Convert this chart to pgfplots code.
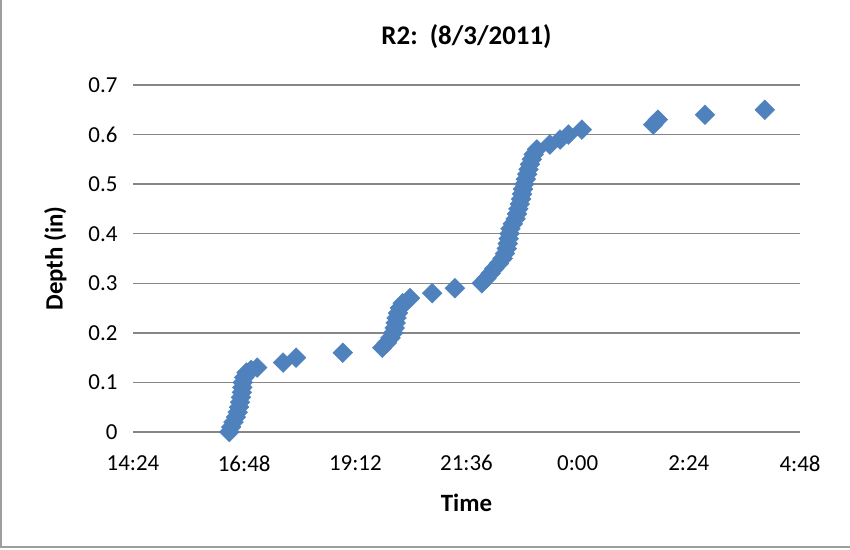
\documentclass[border=0pt]{standalone}
\usepackage{fontspec}
\setmainfont{Carlito}
\usepackage{pgfplots}
\pgfplotsset{compat=1.18}
\definecolor{xlblue}{RGB}{79,129,189}
\definecolor{gridgray}{RGB}{134,134,134}
\begin{document}
\begin{tikzpicture}
\path[use as bounding box] (0,0) rectangle (850bp,550bp);
\draw[gridgray!80, line width=2bp] (1bp,550bp) -- (1bp,3bp) -- (850bp,3bp);
\begin{axis}[
    at={(133bp,118bp)}, anchor=south west,
    scale only axis, width=667bp, height=347bp,
    xmin=14.4, xmax=28.8, ymin=0, ymax=0.7,
    xtick={14.4,16.8,19.2,21.6,24,26.4,28.8},
    xticklabels={14:24,16:48,19:12,21:36,0:00,2:24,4:48},
    ytick={0,0.1,0.2,0.3,0.4,0.5,0.6,0.7},
    yticklabels={0,0.1,0.2,0.3,0.4,0.5,0.6,0.7},
    ymajorgrids, grid style={gridgray, line width=1.5bp},
    axis x line*=bottom, axis y line*=left,
    x axis line style={gridgray, line width=1.5bp, -},
    y axis line style={draw=none},
    major tick length=0pt,
    tick label style={font=\fontsize{23}{26}\selectfont},
    xticklabel style={yshift=-20bp},
    yticklabel style={xshift=-12bp},
    title={\textbf{R2:\ \ (8/3/2011)}},
    title style={font=\fontsize{27}{31}\selectfont, yshift=27bp},
    xlabel={\textbf{Time}}, ylabel={\textbf{Depth (in)}},
    label style={font=\fontsize{25}{29}\selectfont},
    xlabel style={yshift=-16bp}, ylabel style={yshift=15bp},
    clip=false,
]
\addplot[only marks, mark=square*, mark size=7bp,
    mark options={rotate=45, fill=xlblue, draw=xlblue}] table {
x y
16.48 0.00
16.52 0.01
16.57 0.02
16.62 0.03
16.66 0.04
16.69 0.05
16.71 0.06
16.73 0.07
16.75 0.08
16.76 0.09
16.77 0.10
16.80 0.11
16.85 0.12
16.95 0.125
17.08 0.13
17.64 0.14
17.92 0.15
18.93 0.16
19.78 0.17
19.88 0.18
19.96 0.19
20.02 0.20
20.05 0.21
20.07 0.22
20.09 0.23
20.12 0.24
20.16 0.25
20.22 0.26
20.38 0.27
20.86 0.28
21.35 0.29
21.93 0.30
22.03 0.31
22.12 0.32
22.20 0.33
22.30 0.34
22.38 0.35
22.43 0.36
22.47 0.37
22.49 0.38
22.51 0.39
22.53 0.40
22.55 0.41
22.60 0.42
22.66 0.43
22.69 0.44
22.72 0.45
22.75 0.46
22.78 0.47
22.80 0.48
22.82 0.49
22.85 0.50
22.88 0.51
22.91 0.52
22.94 0.53
22.97 0.54
23.01 0.55
23.05 0.56
23.12 0.57
23.40 0.58
23.62 0.59
23.80 0.60
24.09 0.61
25.63 0.62
25.73 0.63
26.75 0.64
28.04 0.65
};
\end{axis}
\end{tikzpicture}
\end{document}
